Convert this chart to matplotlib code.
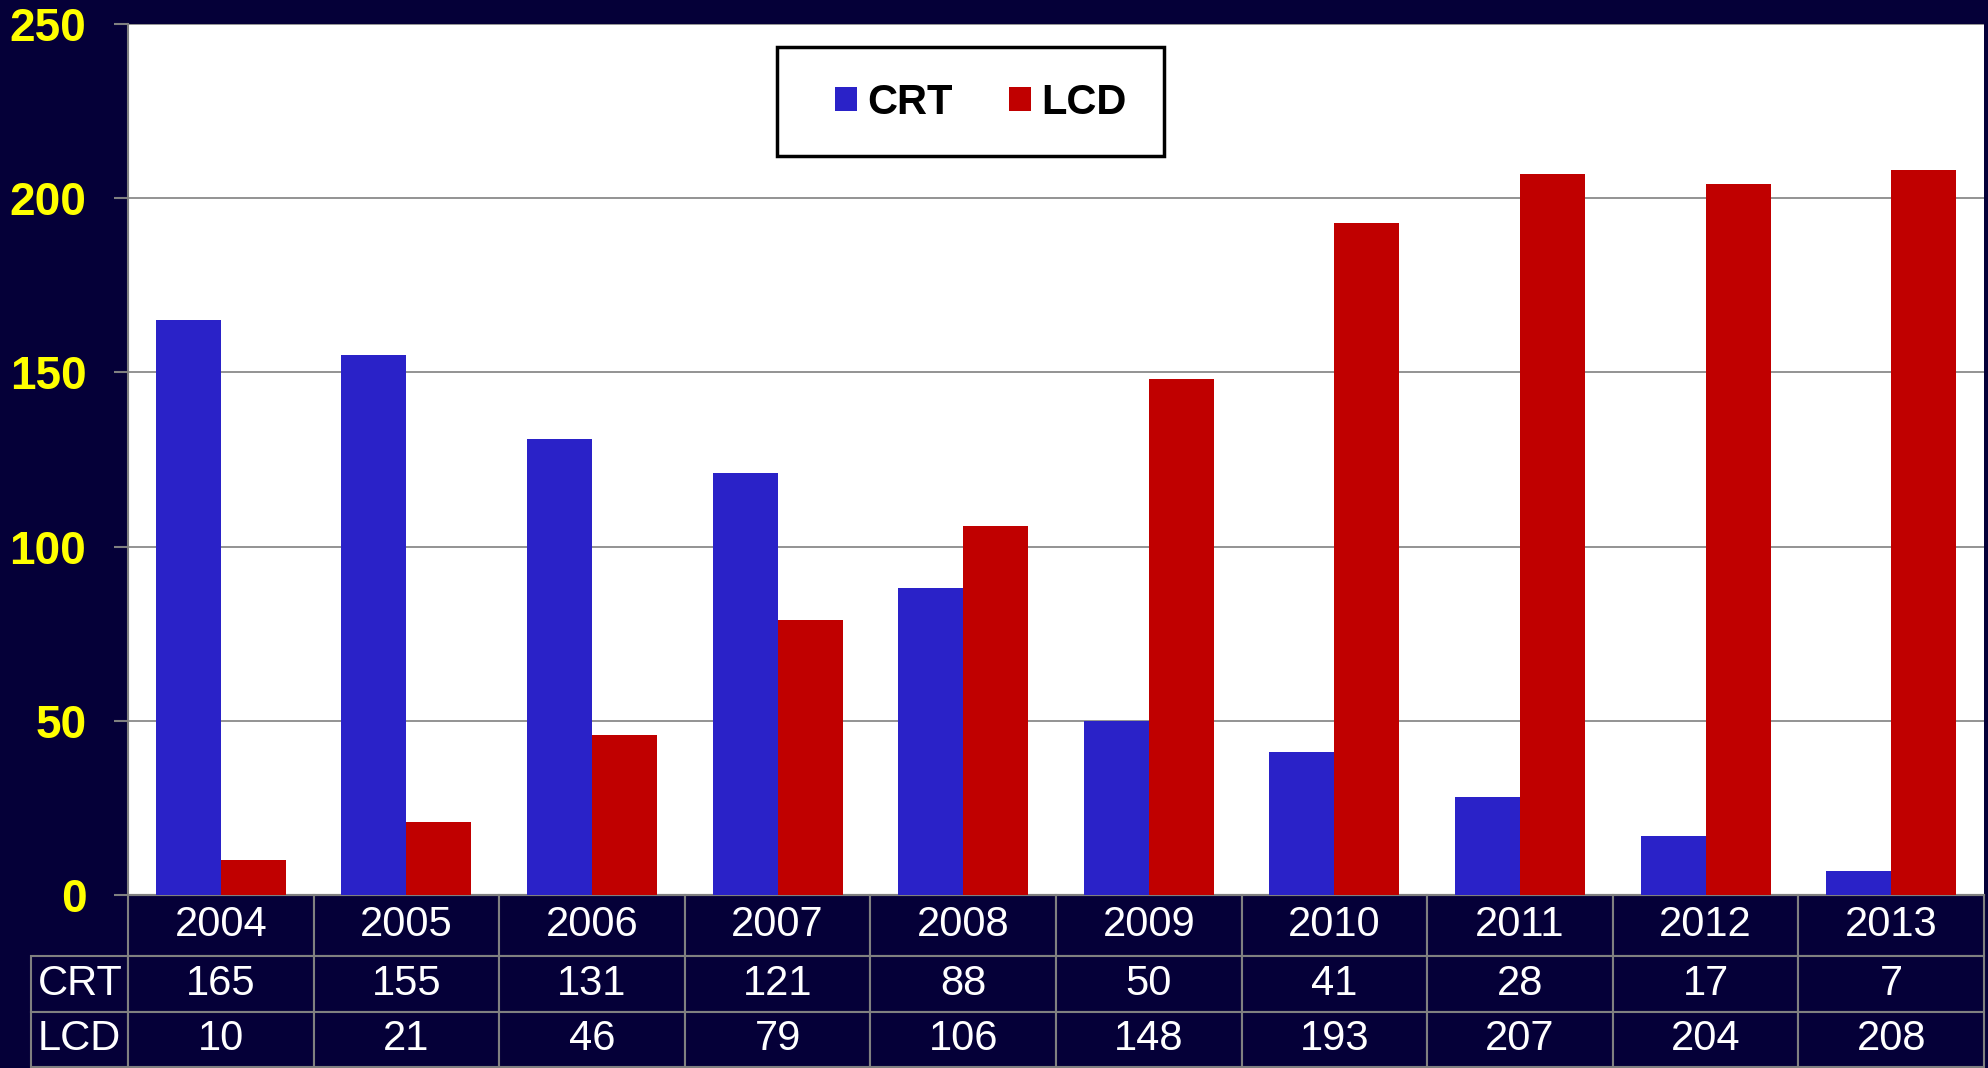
import numpy as np
import matplotlib.pyplot as plt
from matplotlib.patches import Rectangle

# ===== Data =====
years = ["2004", "2005", "2006", "2007", "2008", "2009", "2010", "2011", "2012", "2013"]
crt = [165, 155, 131, 121, 88, 50, 41, 28, 17, 7]
lcd = [10, 21, 46, 79, 106, 148, 193, 207, 204, 208]
yticks = [0, 50, 100, 150, 200, 250]

bg = "#050038"
blue = "#2A22C8"
red = "#C00000"
grey = "#808080"

plt.rcParams['font.family'] = ['Liberation Sans', 'DejaVu Sans']

W, H = 1988, 1068
fig = plt.figure(figsize=(W / 100, H / 100), dpi=100, facecolor=bg)

# axes box in pixels: left 128, right 1984, top 24, bottom 895
AX_L, AX_R, AX_T, AX_B = 128, 1984, 24, 895
ax_w, ax_h = AX_R - AX_L, AX_B - AX_T
ax = fig.add_axes([AX_L / W, (H - AX_B) / H, ax_w / W, ax_h / H])
ax.set_facecolor("white")

x = np.arange(len(years))
width = 0.35
ax.bar(x - width / 2, crt, width, color=blue, label="CRT", zorder=3)
ax.bar(x + width / 2, lcd, width, color=red, label="LCD", zorder=3)

ax.set_xlim(-0.5, len(years) - 0.5)
ax.set_ylim(0, 250)
ax.set_yticks(yticks)
ax.set_yticklabels([str(v) for v in yticks], color="#FFFF00", fontsize=33,
                   fontweight="bold")
ax.tick_params(axis="y", length=10, width=1.5, color=grey, pad=20)
ax.set_xticks([])
ax.yaxis.grid(True, color=grey, linewidth=1.2, zorder=0)

for side in ["top", "right"]:
    ax.spines[side].set_visible(False)
ax.spines["left"].set_color(grey)
ax.spines["left"].set_linewidth(1.5)
ax.spines["bottom"].set_color(grey)
ax.spines["bottom"].set_linewidth(1.5)

# Legend (frame drawn separately)
box_l, box_r, box_t, box_b = 777, 1164, 47, 156
ax.add_patch(Rectangle(((box_l - AX_L) / ax_w, (AX_B - box_b) / ax_h),
                       (box_r - box_l) / ax_w, (box_b - box_t) / ax_h,
                       transform=ax.transAxes, facecolor="white",
                       edgecolor="black", linewidth=2.5, zorder=4))
leg = ax.legend(loc="center left",
                bbox_to_anchor=((835 - AX_L) / ax_w, (AX_B - 103) / ax_h),
                ncol=2, frameon=False,
                prop={"weight": "bold", "size": 30},
                handlelength=0.53, handleheight=0.5, handletextpad=0.25,
                columnspacing=1.35, borderpad=0, borderaxespad=0)
leg.set_zorder(5)

# ===== Data table below the axes =====
cell_text = [[""] + years,
             ["CRT"] + [str(v) for v in crt],
             ["LCD"] + [str(v) for v in lcd]]
label_w = 97 / ax_w
col_w = 1 / 10
tbl_h = (1067 - AX_B) / ax_h
tbl = ax.table(cellText=cell_text,
               colWidths=[label_w] + [col_w] * 10,
               cellLoc="center",
               bbox=[-label_w, -tbl_h, 1 + label_w, tbl_h])
tbl.auto_set_font_size(False)
row_px = [61, 56, 55]
for (r, c), cell in tbl.get_celld().items():
    cell.set_height(row_px[r] / ax_h)
    cell.set_facecolor(bg)
    cell.set_edgecolor(grey)
    cell.set_linewidth(1.5)
    txt = cell.get_text()
    txt.set_color("white")
    txt.set_fontsize(30)
    if c == 0:
        txt.set_ha("left")
        cell.PAD = 0.07
    if r == 0 and c == 0:
        cell.visible_edges = ""

fig.savefig("out.png", dpi=100, facecolor=bg)
